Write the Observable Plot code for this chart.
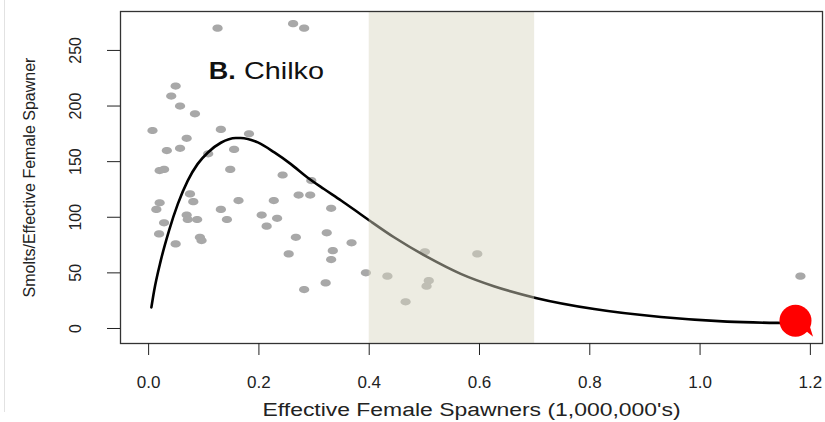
<!DOCTYPE html>
<html><head><meta charset="utf-8">
<script src="https://cdn.jsdelivr.net/npm/d3@7"></script>
<script src="https://cdn.jsdelivr.net/npm/@observablehq/plot@0.6"></script>
<style>
body{margin:0;background:#fff;font-family:"Liberation Sans",Arial,sans-serif;}
#chart{position:relative;width:825px;height:422px;}
#edge{position:absolute;left:4px;top:0;width:1px;height:412px;background:#e2e2e2;}
</style>
</head><body><div id="chart"><div id="edge"></div></div>
<script>
// Observed brood years: effective female spawners (millions) and smolts per spawner
const spawners = [0.125,0.262,0.282,0.049,0.041,0.057,0.084,0.007,0.131,0.182,0.069,0.033,0.057,0.108,0.155,0.020,0.028,0.148,0.075,0.081,0.020,0.014,0.163,0.131,0.069,0.088,0.071,0.142,0.028,0.019,0.093,0.096,0.049,0.243,0.295,0.272,0.293,0.227,0.331,0.205,0.233,0.214,0.267,0.323,0.368,0.334,0.254,0.331,0.394,0.321,0.282,0.433,0.501,0.596,0.508,0.504,0.466,1.182];
const smoltsPerSpawner = [270,274,270,218,209,200,193,178,179,175,171,160,162,157,161,142,143,143,121,114,113,107,115,107,102,98,98,98,95,85,82,79,76,138,133,120,120,115,108,102,99,92,82,86,77,70,67,62,50,41,35,47,69,67,43,38,24,47];
// Fitted curve
const curveSpawners = [0.005,0.010,0.022,0.037,0.053,0.071,0.089,0.108,0.131,0.158,0.167,0.198,0.228,0.258,0.288,0.318,0.349,0.385,0.403,0.445,0.506,0.566,0.626,0.702,0.808,0.929,1.049,1.140,1.170];
const curveSmolts = [19,34,61,88,112,133,148,158.5,167,171.3,171.3,167.3,158.3,147.8,135.8,125.4,115.1,102.5,96.2,82,64.1,49.1,38,27.5,17.5,10.3,6.2,5.0,4.8];
// Current (highlighted) brood year
const currentSpawners = [1.173];
const currentSmolts = [7];
// Shaded spawner range
const shadeLow = [0.4];
const shadeHigh = [0.7];
// Axis ticks and labels
const xTicks = [0, 0.2, 0.4, 0.6, 0.8, 1.0, 1.2];
const yTicks = [0, 50, 100, 150, 200, 250];
const xLabel = "Effective Female Spawners (1,000,000's)";
const yLabel = "Smolts/Effective Female Spawner";
const panelLetter = ["B."];
const panelName = ["Chilko"];

const points = spawners.map((x, i) => ({x, y: smoltsPerSpawner[i]}));
const curve = curveSpawners.map((x, i) => ({x, y: curveSmolts[i]}));
const current = currentSpawners.map((x, i) => ({x, y: currentSmolts[i]}));
const shade = shadeLow.map((lo, i) => ({lo, hi: shadeHigh[i]}));

const ellipse = {
  draw(ctx, size) {
    const r = Math.sqrt(size / Math.PI), rx = r * 1.35, ry = r * 0.95, k = 0.5523;
    ctx.moveTo(rx, 0);
    ctx.bezierCurveTo(rx, ry * k, rx * k, ry, 0, ry);
    ctx.bezierCurveTo(-rx * k, ry, -rx, ry * k, -rx, 0);
    ctx.bezierCurveTo(-rx, -ry * k, -rx * k, -ry, 0, -ry);
    ctx.bezierCurveTo(rx * k, -ry, rx, -ry * k, rx, 0);
    ctx.closePath();
  }
};
// small speech-bubble tail on the highlighted point
const tail = {
  draw(ctx, size) {
    const r = Math.sqrt(size / Math.PI);
    ctx.moveTo(r * 0.55, r * 0.55);
    ctx.lineTo(r * 1.1, r * 1.0);
    ctx.lineTo(r * 0.85, r * 0.2);
    ctx.closePath();
  }
};

const plot = Plot.plot({
  width: 825, height: 422,
  marginLeft: 120, marginRight: 3, marginTop: 11, marginBottom: 79,
  style: {fontFamily: "'Liberation Sans', Arial, sans-serif", fontSize: "15px", color: "#222", background: "transparent", overflow: "visible"},
  x: {domain: [-0.051, 1.222]},
  y: {domain: [-13.5, 285]},
  marks: [
    Plot.dot(points, {x: "x", y: "y", symbol: ellipse, r: 3.8, fill: "#a8a8a8", stroke: null}),
    Plot.line(curve, {x: "x", y: "y", stroke: "black", strokeWidth: 2.6, curve: "monotone-x"}),
    Plot.dot(current, {x: "x", y: "y", r: 16, fill: "#ff0000"}),
    Plot.dot(current, {x: "x", y: "y", r: 16, symbol: tail, fill: "#ff0000"}),
    Plot.rect(shade, {x1: "lo", x2: "hi", fill: "#d9d7c2", fillOpacity: 0.47}),
    Plot.text(panelLetter, {x: () => 0.158, y: () => 231, text: d => d, textAnchor: "end", fontWeight: "bold", fontSize: 24, fill: "#111"}),
    Plot.text(panelName, {x: () => 0.173, y: () => 231, text: d => d, textAnchor: "start", fontSize: 24, fill: "#111"}),
    Plot.frame({stroke: "#333", strokeWidth: 1.3}),
    Plot.axisX({ticks: xTicks, tickFormat: d3.format(".1f"), tickSize: 12, tickPadding: 20, fontSize: 17,
      label: xLabel, labelAnchor: "center", labelOffset: 72, labelArrow: "none"}),
    Plot.axisY({ticks: yTicks, tickSize: 13, tickPadding: 27, tickRotate: -90, fontSize: 16,
      label: yLabel, labelAnchor: "center", labelOffset: 97, labelArrow: "none"})
  ]
});
document.getElementById("chart").appendChild(plot);
const svg = d3.select(plot);
svg.selectAll('g[aria-label="x-axis label"] text').style("font-size", "18px").attr("textLength", 418).attr("lengthAdjust", "spacingAndGlyphs");
svg.selectAll('g[aria-label="y-axis label"] text').style("font-size", "16px");
svg.selectAll('g[aria-label="text"] text').each(function() {
  const t = d3.select(this);
  if (t.text() === "Chilko") t.attr("textLength", 80).attr("lengthAdjust", "spacingAndGlyphs");
  if (t.text() === "B.") t.attr("textLength", 27).attr("lengthAdjust", "spacingAndGlyphs");
});
</script>
</body></html>
